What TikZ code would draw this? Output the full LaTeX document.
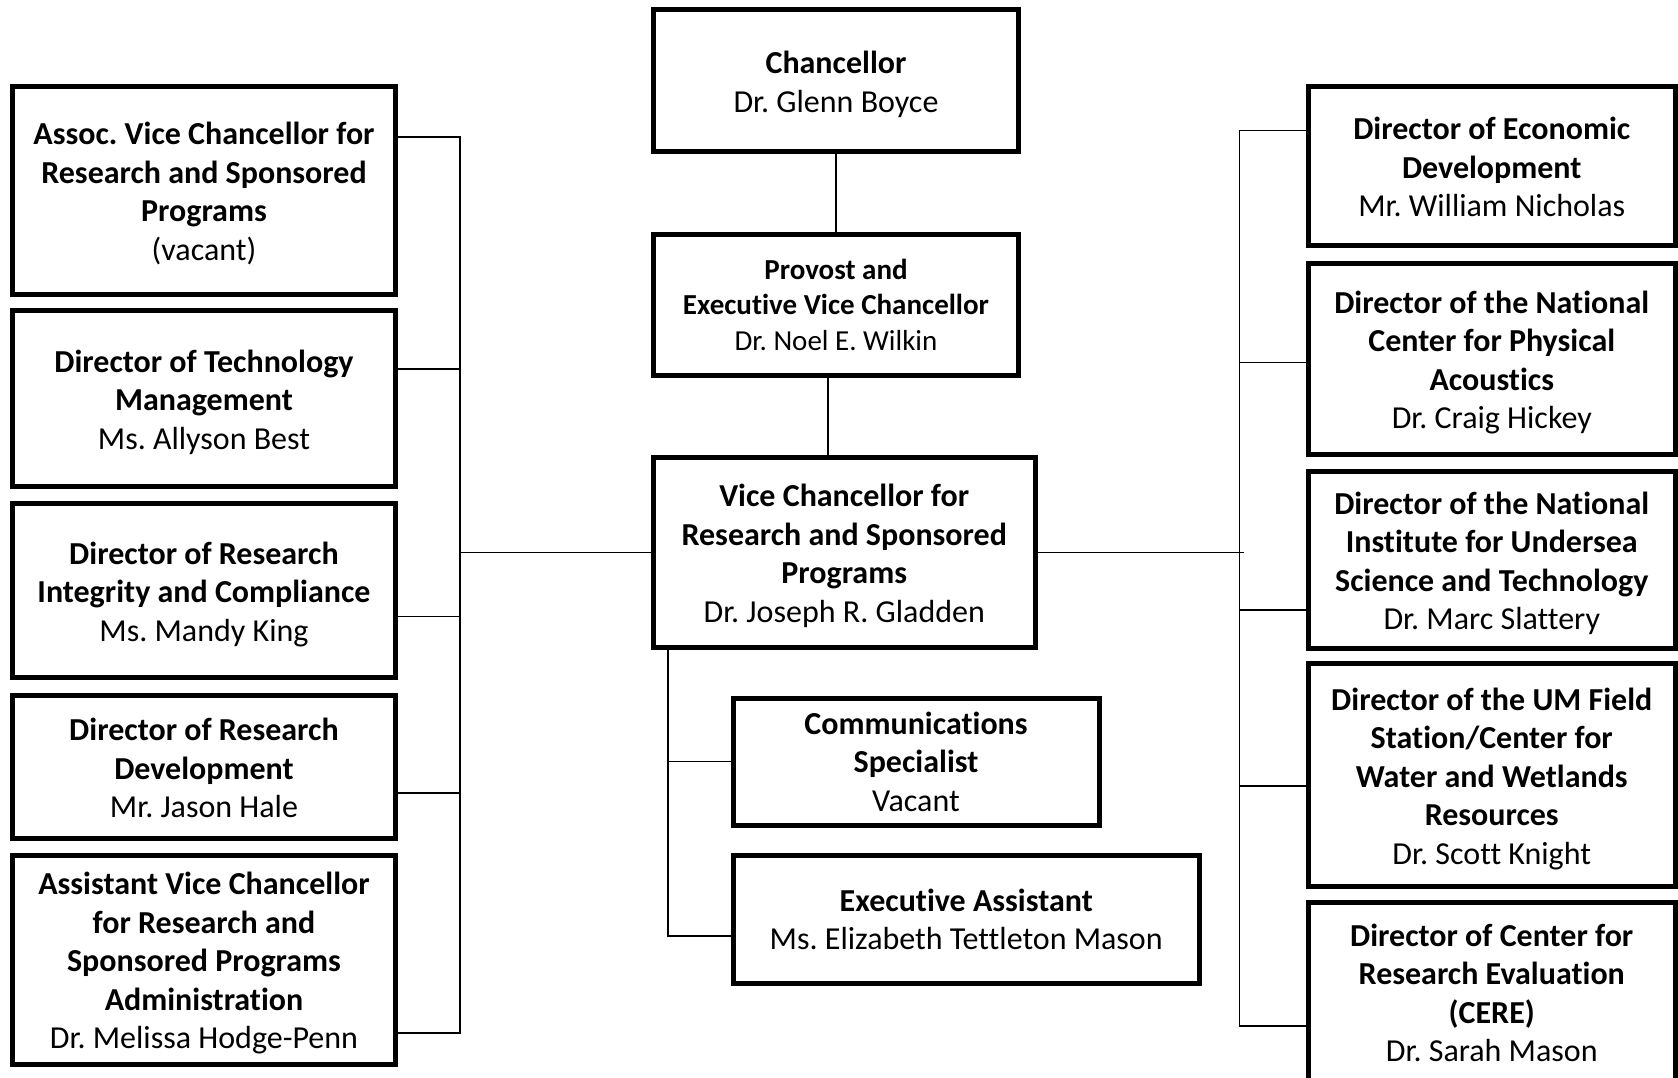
\documentclass[tikz,border=0pt]{standalone}
\usepackage{fontspec}
\setmainfont[Ligatures=NoCommon]{Carlito}
\newcommand{\topstrutx}{\rule{0pt}{32.5pt}}
\newcommand{\topstrutz}{\rule{0pt}{30.25pt}}
\newcommand{\botstrutx}{\rule[-8.25pt]{0pt}{0pt}}
\newcommand{\topstruty}{\rule{0pt}{27.4pt}}
\newcommand{\botstruty}{\rule[-7.5pt]{0pt}{0pt}}
\begin{document}
\frenchspacing
\begin{tikzpicture}[x=1pt,y=-1pt,
  box/.style={draw, line width=5pt, inner sep=0pt, align=center,
    font=\fontsize{32}{38.5}\selectfont},
  lbox/.style={box, minimum width=383pt},
  rbox/.style={box, minimum width=366.5pt},
  conn/.style={draw, line width=1.4pt}]
\useasboundingbox (0,0) rectangle (1678,1078);
\fill[white] (0,0) rectangle (1678,1078);

% left column
\node[lbox, minimum height=207pt] (A1) at (204,190.5)
  {\topstrutx\textbf{Assoc. Vice Chancellor for}\\\textbf{Research and Sponsored}\\\textbf{Programs}\\(vacant)\botstrutx};
\node[lbox, minimum height=176pt] (A2) at (204,398.5)
  {\topstrutx\textbf{Director of Technology}\\\textbf{Management}\\Ms. Allyson Best\botstrutx};
\node[lbox, minimum height=174pt] (A3) at (204,590.5)
  {\topstrutx\textbf{Director of Research}\\\textbf{Integrity and Compliance}\\Ms. Mandy King\botstrutx};
\node[lbox, minimum height=143pt] (A4) at (204,767)
  {\topstrutx\textbf{Director of Research}\\\textbf{Development}\\Mr. Jason Hale\botstrutx};
\node[lbox, minimum height=208.5pt] (A5) at (204,959.75)
  {\topstrutx\textbf{Assistant Vice Chancellor}\\\textbf{for Research and}\\\textbf{Sponsored Programs}\\\textbf{Administration}\\Dr. Melissa Hodge-Penn\botstrutx};

% centre column
\node[box, minimum width=365pt, minimum height=141.5pt] (C) at (836,80.75)
  {\topstrutx\textbf{Chancellor}\\Dr. Glenn Boyce\botstrutx};
\node[box, minimum width=365pt, minimum height=141pt,
  font=\fontsize{29}{35.8}\selectfont] (P) at (836,305)
  {\topstruty\textbf{Provost and}\\\textbf{Executive Vice Chancellor}\\Dr. Noel E. Wilkin\botstruty};
\node[box, minimum width=381.5pt, minimum height=190pt] (VC) at (844.25,552.5)
  {\topstrutx\textbf{Vice Chancellor for}\\\textbf{Research and Sponsored}\\\textbf{Programs}\\Dr. Joseph R. Gladden\botstrutx};
\node[box, minimum width=366pt, minimum height=127pt] (CS) at (916,761.5)
  {\topstrutz\textbf{Communications}\\\textbf{Specialist}\\Vacant\botstrutx};
\node[box, minimum width=466.5pt, minimum height=127.5pt] (EA) at (966.25,919.25)
  {\topstrutz\textbf{Executive Assistant}\\Ms. Elizabeth Tettleton Mason\botstrutx};

% right column
\node[rbox, minimum height=158.5pt] (R1) at (1491.75,166.25)
  {\topstrutx\textbf{Director of Economic}\\\textbf{Development}\\Mr. William Nicholas\botstrutx};
\node[rbox, minimum height=191pt] (R2) at (1491.75,359)
  {\topstrutx\textbf{Director of the National}\\\textbf{Center for Physical}\\\textbf{Acoustics}\\Dr. Craig Hickey\botstrutx};
\node[rbox, minimum height=176.5pt] (R3) at (1491.75,559.75)
  {\topstrutx\textbf{Director of the National}\\\textbf{Institute for Undersea}\\\textbf{Science and Technology}\\Dr. Marc Slattery\botstrutx};
\node[rbox, minimum height=223pt] (R4) at (1491.75,775)
  {\topstrutx\textbf{Director of the UM Field}\\\textbf{Station/Center for}\\\textbf{Water and Wetlands}\\\textbf{Resources}\\Dr. Scott Knight\botstrutx};
\node[rbox, minimum height=180pt] (R5) at (1491.75,992)
  {\topstrutx\textbf{Director of Center for}\\\textbf{Research Evaluation}\\\textbf{(CERE)}\\Dr. Sarah Mason\botstrutx};

% spine coordinates
\coordinate (lb) at (460,1033);
\coordinate (rb) at (1239.5,1026);
\coordinate (ss) at (668,936);
\coordinate (re) at (1243.7,552.5);

% top chain
\draw[conn] (C.south) -- (P.north);
\draw[conn] ([xshift=-8pt]P.south) -- ([xshift=-8pt]P.south |- VC.north);

% left connectors
\draw[conn] ([yshift=53.5pt]A1.east) -| (lb) -- ([yshift=-73.25pt]A5.east);
\draw[conn] ([yshift=29.5pt]A2.east) -- ([yshift=29.5pt]A2.east -| lb);
\draw[conn] ([yshift=-26pt]A3.east) -- ([yshift=-26pt]A3.east -| lb);
\draw[conn] ([yshift=-26pt]A4.east) -- ([yshift=-26pt]A4.east -| lb);
\draw[conn] (VC.west) -- (VC.west -| lb);

% right connectors
\draw[conn] ([yshift=35.75pt]R1.west) -| (rb) -- ([yshift=-34pt]R5.west);
\draw[conn] ([yshift=-3.6pt]R2.west) -- ([yshift=-3.6pt]R2.west -| rb);
\draw[conn] ([yshift=-50.25pt]R3.west) -- ([yshift=-50.25pt]R3.west -| rb);
\draw[conn] ([yshift=-11pt]R4.west) -- ([yshift=-11pt]R4.west -| rb);
\draw[conn] (VC.east) -- (re);

% staff connectors
\draw[conn] (VC.south -| ss) -- (ss) -- ([yshift=-16.75pt]EA.west);
\draw[conn] (CS.west) -- (CS.west -| ss);
\end{tikzpicture}
\end{document}
